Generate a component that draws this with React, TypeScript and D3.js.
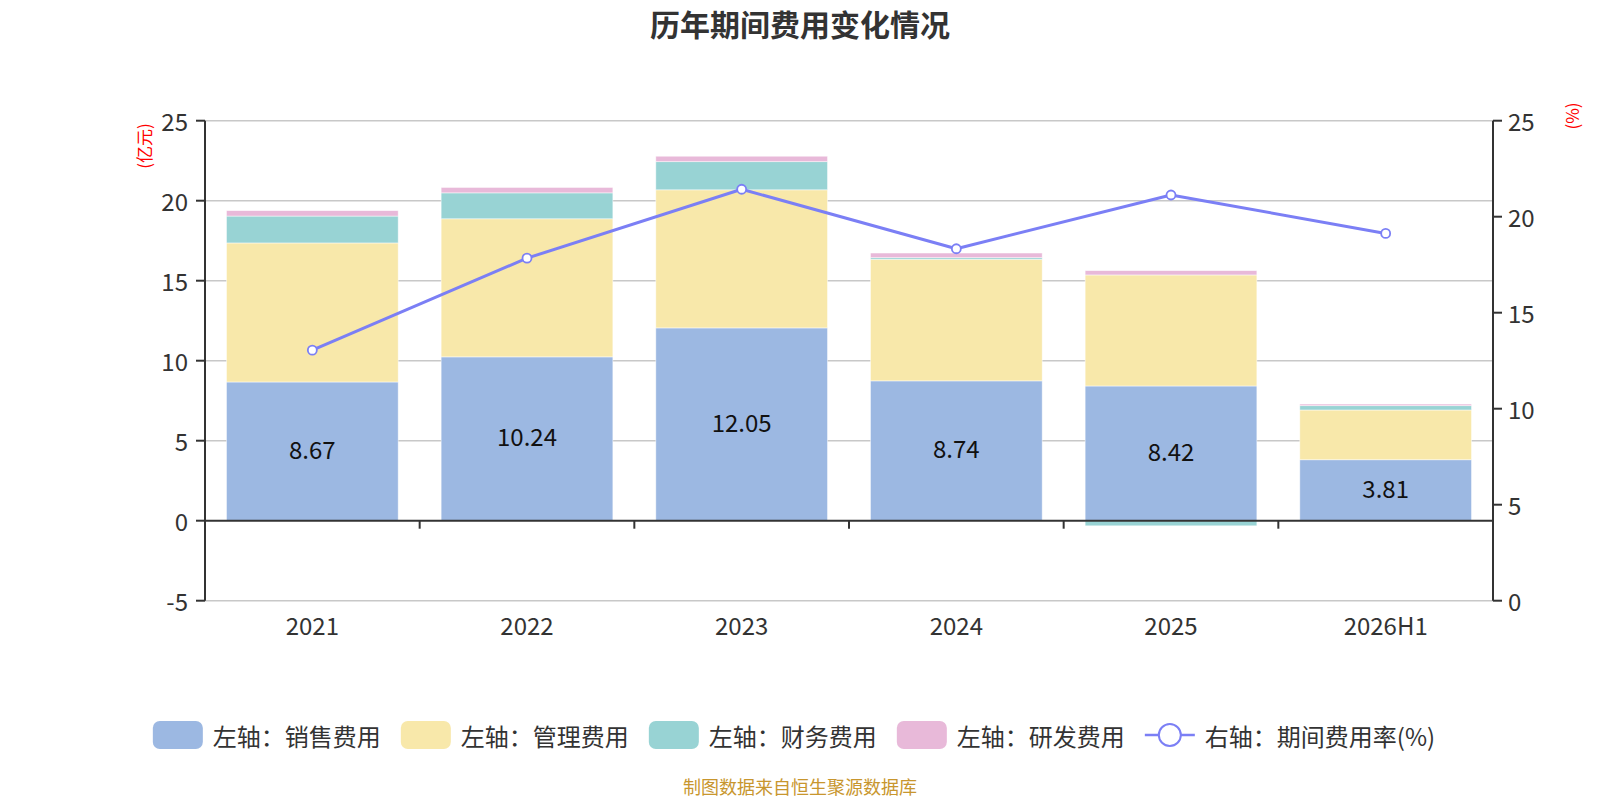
import * as React from 'react'
import * as d3 from 'd3'

// 数据（亿元 / %）
const categories = ['2021', '2022', '2023', '2024', '2025', '2026H1']
const salesCost = [8.67, 10.24, 12.05, 8.74, 8.42, 3.81]
const adminCost = [8.69, 8.63, 8.63, 7.6, 6.94, 3.11]
const financeCost = [1.68, 1.62, 1.76, 0.1, -0.32, 0.27]
const rdCost = [0.34, 0.34, 0.34, 0.29, 0.27, 0.1]
const expenseRate = [13.05, 17.84, 21.43, 18.33, 21.13, 19.13]
const leftTicks = [-5, 0, 5, 10, 15, 20, 25]
const rightTicks = [0, 5, 10, 15, 20, 25]

interface BarSeries {
    name: string
    color: string
    values: number[]
    label: boolean
}

const barSeries: BarSeries[] = [
    { name: '左轴：销售费用', color: '#9cb8e2', values: salesCost, label: true },
    { name: '左轴：管理费用', color: '#f8e8aa', values: adminCost, label: false },
    { name: '左轴：财务费用', color: '#98d3d4', values: financeCost, label: false },
    { name: '左轴：研发费用', color: '#e8b9d9', values: rdCost, label: false },
]
const lineName = '右轴：期间费用率(%)'
const lineColor = '#7b7ff5'

const W = 1600
const H = 800
const margin = { left: 205, right: 107, top: 120.7, bottom: 199.3 }
const font = "'Microsoft YaHei', 'Noto Sans CJK SC', sans-serif"

interface Segment {
    series: number
    cat: string
    y0: number
    y1: number
    value: number
}

// positive values stack upward, negative ones downward from zero
function stack(): Segment[] {
    const out: Segment[] = []
    categories.forEach((cat, i) => {
        let pos = 0
        let neg = 0
        barSeries.forEach((s, k) => {
            const v = s.values[i]
            if (v >= 0) {
                out.push({ series: k, cat, y0: pos, y1: pos + v, value: v })
                pos += v
            } else {
                out.push({ series: k, cat, y0: neg, y1: neg + v, value: v })
                neg += v
            }
        })
    })
    return out
}

let measureCtx: CanvasRenderingContext2D | null = null
function textWidth(t: string, size: number): number {
    if (!measureCtx) measureCtx = document.createElement('canvas').getContext('2d')
    if (!measureCtx) return t.length * size
    measureCtx.font = `${size}px ${font}`
    return measureCtx.measureText(t).width
}

export default function App() {
    const x0 = margin.left
    const x1 = W - margin.right
    const yTop = margin.top
    const yBot = H - margin.bottom

    const x = d3.scaleBand<string>().domain(categories).range([x0, x1]).paddingInner(0.2).paddingOuter(0.1)
    const step = x.step()
    const yL = d3.scaleLinear().domain([-5, 25]).range([yBot, yTop])
    const yR = d3.scaleLinear().domain([0, 25]).range([yBot, yTop])

    const segments = stack()
    const cx = (c: string) => (x(c) as number) + x.bandwidth() / 2

    const line = d3.line<number>()
        .x((_, i) => cx(categories[i]))
        .y(d => yR(d))

    // legend layout
    const legendSize = 24
    const items = [
        ...barSeries.map(s => ({ name: s.name, color: s.color, kind: 'box' })),
        { name: lineName, color: lineColor, kind: 'line' },
    ]
    const iconW = 50
    const widths = items.map(it => iconW + 10 + textWidth(it.name, legendSize))
    const gap = 20
    const total = d3.sum(widths) + gap * (items.length - 1)
    let lx = W / 2 - total / 2 - 6
    const legendY = 735
    const legendPos = widths.map(w => {
        const p = lx
        lx += w + gap
        return p
    })

    return (
        <svg width={W} height={H} style={{ position: 'absolute', left: 0, top: 0, background: '#fff' }}
            fontFamily={font}>
            <text x={W / 2} y={23} textAnchor='middle' dominantBaseline='central'
                fontSize={30} fontWeight='bold' fill='#333'>历年期间费用变化情况</text>

            {/* grid */}
            {leftTicks.filter(t => t !== 0).map(t => (
                <line key={'g' + t} x1={x0} x2={x1} y1={yL(t)} y2={yL(t)} stroke='#c8c8c8' strokeWidth={1.5} />
            ))}

            {/* bars */}
            {segments.map((s, i) => (
                <rect key={'b' + i}
                    x={x(s.cat)}
                    width={x.bandwidth()}
                    y={Math.min(yL(s.y0), yL(s.y1))}
                    height={Math.abs(yL(s.y1) - yL(s.y0))}
                    fill={barSeries[s.series].color}
                    stroke='#ffffff' strokeOpacity={0.6} strokeWidth={0.8} />
            ))}

            {/* value labels */}
            {segments.filter(s => barSeries[s.series].label).map((s, i) => (
                <text key={'l' + i} x={cx(s.cat)} y={(yL(s.y0) + yL(s.y1)) / 2 - 3}
                    textAnchor='middle' dominantBaseline='central' fontSize={24} fill='#111'>
                    {s.value.toFixed(2)}
                </text>
            ))}

            {/* x axis at zero */}
            <line x1={x0} x2={x1} y1={yL(0)} y2={yL(0)} stroke='#333' strokeWidth={2} />
            {categories.slice(1).map((c, i) => (
                <line key={'xt' + i} x1={x0 + step * (i + 1)} x2={x0 + step * (i + 1)}
                    y1={yL(0)} y2={yL(0) + 8} stroke='#333' strokeWidth={2} />
            ))}
            {categories.map(c => (
                <text key={'xl' + c} x={cx(c)} y={624} textAnchor='middle' dominantBaseline='central'
                    fontSize={24} fill='#333'>{c}</text>
            ))}

            {/* left axis */}
            <line x1={x0} x2={x0} y1={yTop} y2={yBot} stroke='#333' strokeWidth={2} />
            {leftTicks.map(t => (
                <g key={'lt' + t}>
                    <line x1={x0 - 9} x2={x0} y1={yL(t)} y2={yL(t)} stroke='#333' strokeWidth={2} />
                    <text x={x0 - 17} y={yL(t)} textAnchor='end' dominantBaseline='central'
                        fontSize={24} fill='#333'>{t}</text>
                </g>
            ))}
            <text transform={`translate(143,146) rotate(-90)`} textAnchor='middle' dominantBaseline='central'
                fontSize={17} fill='#ff0000'>(亿元)</text>

            {/* right axis */}
            <line x1={x1} x2={x1} y1={yTop} y2={yBot} stroke='#333' strokeWidth={2} />
            {rightTicks.map(t => (
                <g key={'rt' + t}>
                    <line x1={x1} x2={x1 + 9} y1={yR(t)} y2={yR(t)} stroke='#333' strokeWidth={2} />
                    <text x={x1 + 15} y={yR(t)} textAnchor='start' dominantBaseline='central'
                        fontSize={24} fill='#333'>{t}</text>
                </g>
            ))}
            <text transform={`translate(1571,116) rotate(-90)`} textAnchor='middle' dominantBaseline='central'
                fontSize={17} fill='#ff0000'>(%)</text>

            {/* rate line */}
            <path d={line(expenseRate) || ''} fill='none' stroke={lineColor} strokeWidth={3}
                strokeLinejoin='round' />
            {expenseRate.map((v, i) => (
                <circle key={'p' + i} cx={cx(categories[i])} cy={yR(v)} r={4.5}
                    fill='#fff' stroke={lineColor} strokeWidth={1.8} />
            ))}

            {/* legend */}
            {items.map((it, i) => (
                <g key={'lg' + i} transform={`translate(${legendPos[i]},${legendY})`}>
                    {it.kind === 'box'
                        ? <rect x={0} y={-14} width={iconW} height={28} rx={7} fill={it.color} />
                        : <g>
                            <line x1={0} x2={iconW} y1={0} y2={0} stroke={it.color} strokeWidth={2.5} />
                            <circle cx={iconW / 2} cy={0} r={11} fill='#fff' stroke={it.color} strokeWidth={2} />
                        </g>}
                    <text x={iconW + 10} y={0} dominantBaseline='central' fontSize={legendSize} fill='#333'>
                        {it.name}
                    </text>
                </g>
            ))}

            <text x={W / 2} y={786} textAnchor='middle' dominantBaseline='central' fontSize={18}
                fill='#c8962e'>制图数据来自恒生聚源数据库</text>
        </svg>
    )
}
